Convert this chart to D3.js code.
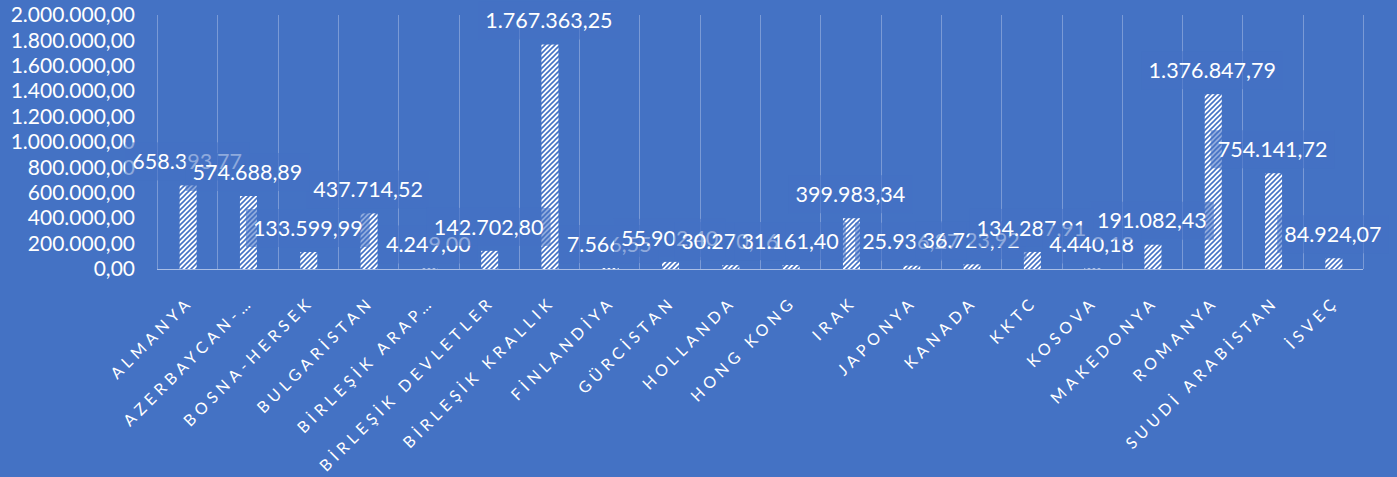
<!DOCTYPE html>
<html>
<head>
<meta charset="utf-8">
<script src="https://cdn.jsdelivr.net/npm/d3@7"></script>
<style>
  body { margin: 0; background: #4472c4; }
  svg { display: block; }
</style>
</head>
<body>
<div id="chart"></div>
<script>
// categories, in the order the chart shows them
const countries = [
  'ALMANYA', 'AZERBAYCAN-…', 'BOSNA-HERSEK', 'BULGARİSTAN', 'BİRLEŞİK ARAP…',
  'BİRLEŞİK DEVLETLER', 'BİRLEŞİK KRALLIK', 'FİNLANDİYA', 'GÜRCİSTAN', 'HOLLANDA',
  'HONG KONG', 'IRAK', 'JAPONYA', 'KANADA', 'KKTC',
  'KOSOVA', 'MAKEDONYA', 'ROMANYA', 'SUUDİ ARABİSTAN', 'İSVEÇ'
];
const amounts = [
  658393.77, 574688.89, 133599.99, 437714.52, 4249.00,
  142702.80, 1767363.25, 7566.55, 55902.40, 30270.16,
  31161.40, 399983.34, 25936.27, 36723.92, 134287.91,
  4440.18, 191082.43, 1376847.79, 754141.72, 84924.07
];
const yTicks = [0, 200000, 400000, 600000, 800000, 1000000, 1200000, 1400000, 1600000, 1800000, 2000000];

const W = 1397, H = 477;
const margin = { top: 15, right: 34, bottom: 208, left: 157 };
const bg = '#4472c4';
const font = 'Lato, "Open Sans", sans-serif';

// turkish number format: 1.234.567,89
const fmt = d3.formatLocale({ decimal: ',', thousands: '.', grouping: [3], currency: ['', ''] }).format(',.2f');

const svg = d3.select('#chart').append('svg')
  .attr('width', W)
  .attr('height', H);

svg.append('rect').attr('width', W).attr('height', H).attr('fill', bg);

// hatch for the bars (white with thin blue "/" lines)
const pat = svg.append('defs').append('pattern')
  .attr('id', 'hatch')
  .attr('patternUnits', 'userSpaceOnUse')
  .attr('width', 5)
  .attr('height', 5);
pat.append('rect').attr('width', 5).attr('height', 5).attr('fill', '#ffffff');
pat.append('path')
  .attr('d', 'M-1,1 l2,-2 M0,5 l5,-5 M4,6 l2,-2')
  .attr('stroke', bg)
  .attr('stroke-width', 1.6);

const x = d3.scaleBand()
  .domain(countries)
  .range([margin.left, W - margin.right])
  .paddingInner(0)
  .paddingOuter(0);

const y = d3.scaleLinear()
  .domain([0, 2000000])
  .range([H - margin.bottom, margin.top]);

const g = svg.append('g');

// vertical gridlines between categories
const edges = countries.map(c => x(c)).concat([x.range()[1]]);
g.selectAll('.grid')
  .data(edges)
  .enter()
  .append('line')
  .attr('x1', d => Math.round(d) + 0.5)
  .attr('x2', d => Math.round(d) + 0.5)
  .attr('y1', y(2000000))
  .attr('y2', y(0))
  .attr('stroke', '#7a9ad6')
  .attr('stroke-width', 1);

// base line
g.append('line')
  .attr('x1', x.range()[0])
  .attr('x2', x.range()[1])
  .attr('y1', Math.round(y(0)) + 0.5)
  .attr('y2', Math.round(y(0)) + 0.5)
  .attr('stroke', '#a9bee6')
  .attr('stroke-width', 1);

// y axis labels
const yAxis = d3.axisLeft(y).tickValues(yTicks).tickFormat(fmt).tickSize(0).tickPadding(0);
const ya = svg.append('g')
  .attr('transform', 'translate(135,0)')
  .call(yAxis);
ya.select('.domain').remove();
ya.selectAll('text')
  .attr('fill', '#ffffff')
  .style('font-family', font)
  .style('font-size', '21px');

// bars
const barW = 17;
g.selectAll('.bar')
  .data(amounts)
  .enter()
  .append('rect')
  .attr('x', (d, i) => x(countries[i]) + x.bandwidth() / 2 - barW / 2 + 1)
  .attr('y', d => y(d))
  .attr('width', barW)
  .attr('height', d => y(0) - y(d))
  .attr('fill', 'url(#hatch)');

// data labels, each with a half transparent box that covers what is under it
const labels = svg.append('g');
amounts.forEach(function (v, i) {
  const cx = x(countries[i]) + x.bandwidth() / 2;
  const cy = y(v) - 24;
  const lg = labels.append('g');
  const box = lg.append('rect')
    .attr('fill', bg)
    .attr('opacity', 0.6);
  const t = lg.append('text')
    .attr('x', cx)
    .attr('y', cy)
    .attr('dy', '0.36em')
    .attr('text-anchor', 'middle')
    .attr('fill', '#ffffff')
    .style('font-family', font)
    .style('font-size', '21.5px')
    .text(fmt(v));
  const bb = t.node().getBBox();
  box.attr('x', bb.x - 7)
    .attr('y', cy - 19)
    .attr('width', bb.width + 14)
    .attr('height', 38);
});

// category labels, rotated
svg.append('g')
  .selectAll('text')
  .data(countries)
  .enter()
  .append('text')
  .attr('transform', d => 'translate(' + (x(d) + x.bandwidth() / 2 + 7) + ',' + 303 + ') rotate(-45)')
  .attr('text-anchor', 'end')
  .attr('fill', '#ffffff')
  .style('font-family', font)
  .style('font-size', '16px')
  .style('letter-spacing', '4.6px')
  .text(d => d);
</script>
</body>
</html>
